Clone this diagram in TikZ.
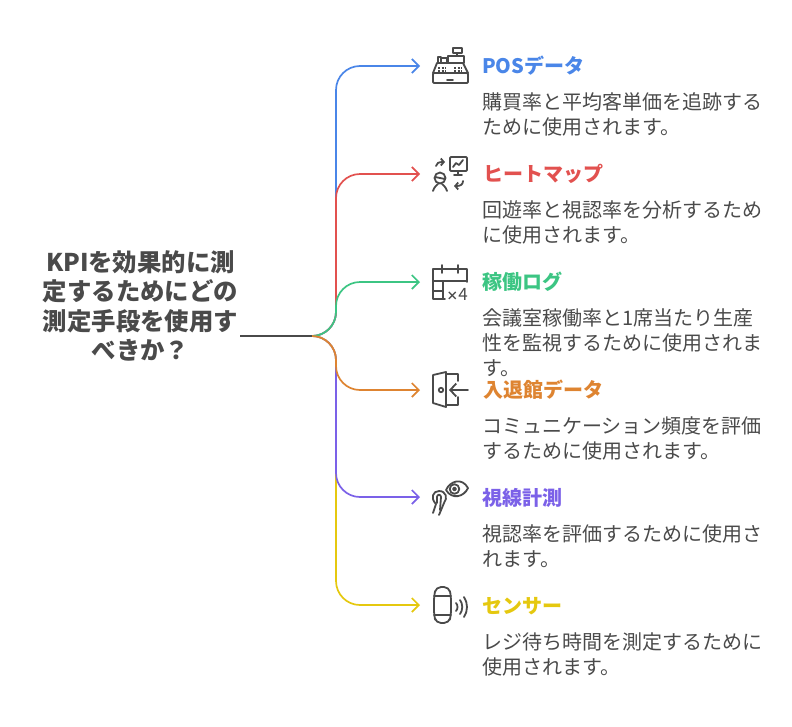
\documentclass[tikz,border=0pt]{standalone}
\usepackage{fontspec}
\setmainfont{Noto Sans CJK JP}
\usetikzlibrary{arrows.meta}
\definecolor{posblue}{HTML}{4A86E8}
\definecolor{heatred}{HTML}{E2514F}
\definecolor{loggreen}{HTML}{3CC583}
\definecolor{gateorange}{HTML}{DE8431}
\definecolor{eyepurple}{HTML}{7B61E8}
\definecolor{sensoryellow}{HTML}{E5C80F}
\definecolor{inkgray}{HTML}{4A4A4A}
\tikzset{
  branch/.style={draw,line width=1.7pt,rounded corners=24pt,-{Straight Barb[length=7pt,width=14pt]}},
  heading/.style={anchor=west,inner sep=0pt,font=\fontsize{20}{25}\selectfont\bfseries},
  body/.style={anchor=north west,inner sep=0pt,align=left,text=inkgray,font=\fontsize{20}{25}\selectfont},
  icon/.style={draw=inkgray,line width=1.8pt,line cap=round,line join=round}
}
\begin{document}
\begin{tikzpicture}[x=1pt,y=-1pt]
  \useasboundingbox (0,0) rectangle (792,726);
  \node[inner sep=0pt,align=center,text=inkgray,font=\fontsize{24.4}{29.6}\selectfont\bfseries] (root) at (140.5,306)
    {KPIを効果的に測\\定するためにどの\\測定手段を使用す\\べきか？};
  \coordinate (rootOut) at (240,336);
  \coordinate (junction) at (312,336);
  \coordinate (trunk) at (336,336);
  \coordinate (posTip) at (420,66);
  \coordinate (heatTip) at (420,174);
  \coordinate (logTip) at (420,282);
  \coordinate (gateTip) at (420,390);
  \coordinate (eyeTip) at (420,497);
  \coordinate (sensorTip) at (420,605);

  \draw[branch,posblue] (junction) -- (trunk) -- (trunk |- posTip) -- (posTip);
  \draw[branch,heatred] (junction) -- (trunk) -- (trunk |- heatTip) -- (heatTip);
  \draw[branch,sensoryellow] (junction) -- (trunk) -- (trunk |- sensorTip) -- (sensorTip);
  \draw[branch,eyepurple] (junction) -- (trunk) -- (trunk |- eyeTip) -- (eyeTip);
  \draw[branch,loggreen] (junction) -- (trunk) -- (trunk |- logTip) -- (logTip);
  \draw[branch,gateorange] (junction) -- (trunk) -- (trunk |- gateTip) -- (gateTip);
  \draw[line width=1.7pt,inkgray] (rootOut) -- (junction);

  \node[heading,text=posblue] (posTitle) at (482,66) {POSデータ};
  \node[body] (posText) at (482,92) {購買率と平均客単価を追跡する\\ために使用されます。};
  \node[heading,text=heatred] (heatTitle) at (483,174) {ヒートマップ};
  \node[body] (heatText) at (482,200) {回遊率と視認率を分析するため\\に使用されます。};
  \node[heading,text=loggreen] (logTitle) at (482,282) {稼働ログ};
  \node[body] (logText) at (482,308) {会議室稼働率と1席当たり生産\\性を監視するために使用されま\\す。};
  \node[heading,text=gateorange] (gateTitle) at (483,390) {入退館データ};
  \node[body] (gateText) at (482,416) {コミュニケーション頻度を評価\\するために使用されます。};
  \node[heading,text=eyepurple] (eyeTitle) at (482,498) {視線計測};
  \node[body] (eyeText) at (482,524) {視認率を評価するために使用さ\\れます。};
  \node[heading,text=sensoryellow] (sensorTitle) at (482,606) {センサー};
  \node[body] (sensorText) at (482,632) {レジ待ち時間を測定するために\\使用されます。};

  % register
  \draw[icon,rounded corners=1pt] (433,73) rectangle (468,83);
  \draw[icon] (433,73) -- (437,63) -- (463,63) -- (468,73) (447,80) -- (453,80);
  \draw[icon] (453,48) rectangle (462,53) (457,53) -- (457,56) (448,56) rectangle (464,63);
  \draw[icon] (438,63) -- (438,57) -- (441,57) -- (441,63) (441,58) -- (447,58) -- (447,63);
  \draw[icon,line width=1.4pt,line cap=butt,dash pattern=on 2pt off 1.5pt] (438,68) -- (446,68) (454,68) -- (462,68) (438,71) -- (446,71) (454,71) -- (462,71);
  % people and monitor
  \draw[icon,rounded corners=1pt] (450,157) rectangle (467,171);
  \draw[icon] (453,167) -- (456,163) -- (459,165) -- (463,160) (458,171) -- (458,174) (454,175) -- (462,175);
  \draw[icon] (440,178) circle (5.5) (435,177) -- (445,179);
  \draw[icon] (433,191) .. controls (434,187) and (437,185) .. (438,184) (447,191) .. controls (446,187) and (443,185) .. (442,184);
  \draw[icon,-{Straight Barb[length=3pt,width=7pt]}] (436,166) .. controls (436,163) and (439,162) .. (445,162);
  \draw[icon,-{Straight Barb[length=3pt,width=7pt]}] (463,181) .. controls (463,185) and (460,186) .. (454,186);
  % calendar
  \draw[icon] (467,282) -- (467,269) -- (433,269) -- (433,299) -- (445,299);
  \draw[icon] (442,265) -- (442,273) (458,265) -- (458,273) (433,281) -- (467,281) (433,291) -- (443,291) (443,281) -- (443,299);
  \node[inner sep=0pt,text=inkgray,font=\fontsize{17}{17}\selectfont] (calCount) at (457,294) {{\fontsize{12}{12}\selectfont\bfseries ×}4};
  % door
  \draw[icon] (433,375) -- (446,372) -- (446,407) -- (433,403) -- cycle;
  \draw[icon] (446,374) -- (458,374) -- (458,381) (458,397) -- (458,405) -- (446,405);
  \draw[icon] (441,390) circle (2.2);
  \draw[icon,-{Straight Barb[length=6pt,width=13pt]}] (468,390) -- (449,390);
  % eye
  \draw[icon] (446,490) .. controls (450,481) and (462,477) .. (468,488) .. controls (464,497) and (452,500) .. (446,490);
  \draw[icon] (454.5,489) circle (4.8);
  \draw[icon] (454.5,489) circle (1.5);
  \draw[icon] (433,513) -- (436,504) .. controls (430,498) and (433,491) .. (439,491) .. controls (446,491) and (448,498) .. (444,503) -- (439,515);
  \draw[icon] (437,503) -- (437,497) .. controls (437,494) and (441,494) .. (441,497) -- (440,510);
  % sensor
  \draw[icon,rounded corners=5pt] (436,587) -- (449,587) -- (451,596) -- (451,615) -- (449,623) -- (436,623) -- (434,615) -- (434,596) -- cycle;
  \draw[icon] (434,596) -- (451,596) (434,615) -- (451,615);
  \draw[icon] (456,603) .. controls (458,605) and (458,609) .. (456,611);
  \draw[icon] (460,600) .. controls (463,604) and (463,610) .. (460,614);
  \draw[icon] (464,597) .. controls (468,603) and (468,611) .. (464,617);
\end{tikzpicture}
\end{document}
